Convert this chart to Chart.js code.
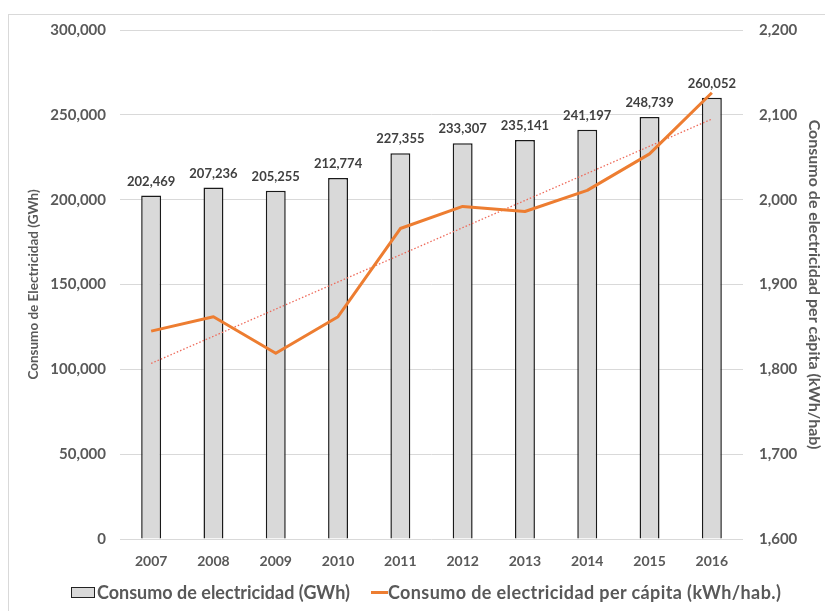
<!DOCTYPE html>
<html>
<head>
<meta charset="utf-8">
<script src="https://cdn.jsdelivr.net/npm/chart.js@4.4.0/dist/chart.umd.min.js"></script>
<style>
  body { margin: 0; background: #fff; font-family: Lato, sans-serif; }
  #frame { position: absolute; left: 8px; top: 14px; width: 830px; height: 610px; border: 1px solid #d9d9d9; }
  #chart { position: absolute; left: 0; top: 0; }
  #legend { position: absolute; left: 71px; top: 581px; display: flex; align-items: center;
            font: bold 18px Lato, sans-serif; color: #595959; white-space: nowrap; }
  .box { width: 22px; height: 9px; background: #d9d9d9; border: 1px solid #222; margin-right: 2px; }
  .line { width: 17px; height: 3px; background: #ed7d31; margin-left: 21px; }
  .wide { letter-spacing: 0.4px; }
</style>
</head>
<body>
<div id="frame"></div>
<canvas id="chart" width="825" height="611"></canvas>
<div id="legend">
  <span class="box"></span><span>Consumo de electricidad (GWh)</span>
  <span class="line"></span><span class="wide">Consumo de electricidad per cápita (kWh/hab.)</span>
</div>
<script>
const years = ["2007", "2008", "2009", "2010", "2011", "2012", "2013", "2014", "2015", "2016"];
const consumoGWh = [202469, 207236, 205255, 212774, 227355, 233307, 235141, 241197, 248739, 260052];
const perCapita = [1845, 1862, 1819, 1862, 1966, 1992, 1986, 2011, 2054, 2126];
// linear trend of per-capita use, only its two ends
const trendEnds = [1807, null, null, null, null, null, null, null, null, 2095];

const gray = "#595959";
const fmt = v => v.toLocaleString("en-US");

// value labels over each bar
const barLabels = {
  id: "barLabels",
  afterDatasetsDraw(chart) {
    const ctx = chart.ctx;
    const meta = chart.getDatasetMeta(2);
    ctx.save();
    ctx.font = "bold 13px Lato";
    ctx.fillStyle = "#404040";
    ctx.textAlign = "center";
    ctx.textBaseline = "middle";
    meta.data.forEach((bar, i) => ctx.fillText(fmt(consumoGWh[i]), bar.x, bar.y - 14));
    ctx.restore();
  }
};

new Chart(document.getElementById("chart"), {
  type: "bar",
  data: {
    labels: years,
    datasets: [
      {
        type: "line", label: "Consumo de electricidad per cápita (kWh/hab.)", data: perCapita,
        yAxisID: "y1", borderColor: "#ed7d31", borderWidth: 3, pointRadius: 0,
        borderJoinStyle: "round", order: 1
      },
      {
        type: "line", label: "Tendencia", data: trendEnds, spanGaps: true,
        yAxisID: "y1", borderColor: "#ee6a5a", borderWidth: 1.3, borderDash: [1.5, 2],
        pointRadius: 0, order: 2
      },
      {
        label: "Consumo de electricidad (GWh)", data: consumoGWh, yAxisID: "y",
        backgroundColor: "#d9d9d9", borderColor: "#1a1a1a", borderWidth: 1.5,
        barPercentage: 0.32, categoryPercentage: 1, order: 3
      }
    ]
  },
  options: {
    responsive: false,
    animation: false,
    layout: { padding: { top: 30, bottom: 32, left: 0, right: 0 } },
    plugins: { legend: { display: false }, tooltip: { enabled: false } },
    scales: {
      x: {
        grid: { display: false, drawTicks: false }, border: { display: false },
        ticks: { color: gray, font: { family: "Lato", size: 14, weight: "bold" }, padding: 14 },
        afterFit: s => { s.height = 40; }
      },
      y: {
        position: "left", min: 0, max: 300000,
        grid: { color: "#d9d9d9", drawTicks: false }, border: { display: false },
        ticks: { stepSize: 50000, color: gray, padding: 14, callback: v => fmt(v),
                 font: { family: "Lato", size: 15, weight: "bold" } },
        title: { display: true, text: "Consumo de Electricidad (GWh)", color: gray,
                 font: { family: "Lato", size: 13.5, weight: "bold" }, padding: { top: 26, bottom: 0 } },
        afterFit: s => { s.width = 120; }
      },
      y1: {
        position: "right", min: 1600, max: 2200,
        grid: { display: false, drawTicks: false }, border: { display: false },
        ticks: { stepSize: 100, color: gray, padding: 16, callback: v => fmt(v),
                 font: { family: "Lato", size: 15, weight: "bold" } },
        title: { display: true, text: "Consumo de electricidad per cápita (kWh/hab)", color: gray,
                 font: { family: "Lato", size: 16, weight: "bold" }, padding: { top: 1, bottom: 0 } },
        afterFit: s => { s.width = 82; }
      }
    }
  },
  plugins: [barLabels]
});
</script>
</body>
</html>
